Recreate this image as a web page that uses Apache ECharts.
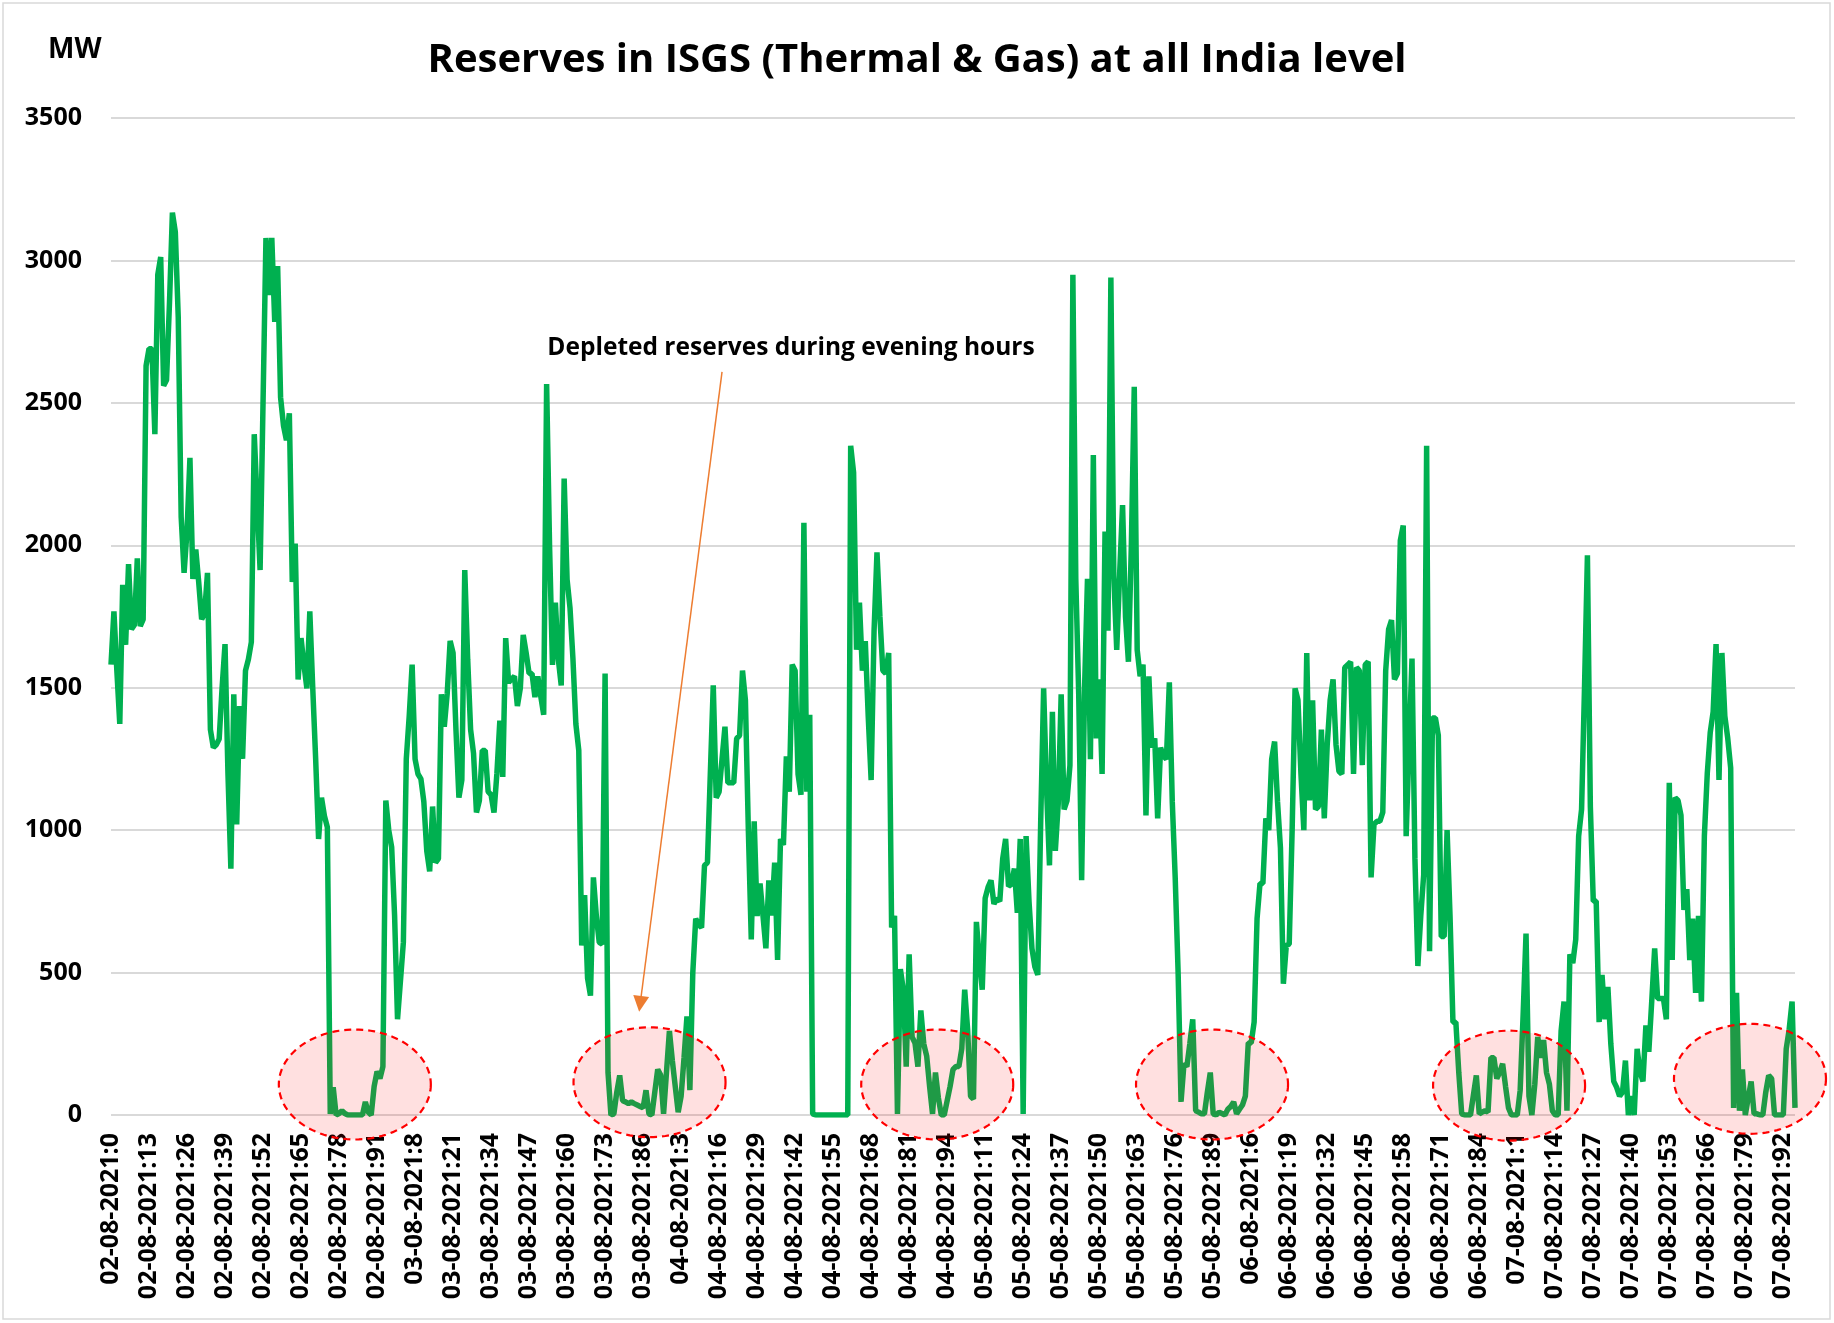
<!DOCTYPE html>
<html>
<head>
<meta charset="utf-8">
<title>Reserves in ISGS</title>
<script src="https://cdn.jsdelivr.net/npm/echarts@6/dist/echarts.min.js"></script>
<style>
  html, body { margin: 0; padding: 0; background: #fff; }
  #main { width: 1834px; height: 1323px; }
</style>
</head>
<body>
<div id="main"></div>
<script>
// days on the category axis, blocks per day
const days = ['02-08-2021', '03-08-2021', '04-08-2021', '05-08-2021', '06-08-2021', '07-08-2021']
const firstBlock = [0, 1, 1, 1, 1, 1]
const lastBlock = 96

// reserves in MW per block
const day02 = [
  1581, 1768, 1560, 1373, 1861, 1650, 1934, 1705, 1720, 1954,
  1716, 1740, 2630, 2690, 2690, 2390, 2950, 3012, 2560, 2580,
  2850, 3168, 3100, 2800, 2100, 1903, 2050, 2307, 1882, 1985,
  1870, 1740, 1760, 1903, 1353, 1290, 1300, 1320, 1500, 1653,
  1200, 865, 1477, 1020, 1436, 1250, 1560, 1600,
  1660, 2390, 2150, 1913, 2500, 3079, 2878, 3079, 2784, 2980,
  2520, 2420, 2369, 2463, 1871, 2006, 1529, 1674, 1580, 1498,
  1768, 1500, 1250, 969, 1114, 1050, 1010, 4, 97, 0,
  5, 15, 5, 0, 0, 0, 0, 0, 0, 46,
  10, 0, 100, 153, 128, 170, 1104, 1000, 940
]
const day03 = [
  700, 336, 470, 606, 1250, 1400, 1581, 1250, 1197, 1180,
  1100, 927, 855, 1083, 886, 900, 1477, 1363, 1480, 1664,
  1622, 1350, 1114, 1176, 1913, 1600, 1353, 1270, 1062, 1104,
  1280, 1280, 1135, 1124, 1062, 1200, 1384, 1187, 1674, 1519,
  1530, 1540, 1436, 1498, 1685, 1622, 1550, 1550, 1467,
  1540, 1470, 1405, 2566, 2000, 1580, 1799, 1600, 1508, 2234,
  1880, 1780, 1602, 1373, 1280, 595, 772, 481, 419, 834,
  700, 606, 600, 1550, 149, 0, 4, 80, 139, 50,
  46, 40, 46, 40, 35, 30, 25, 87, 4, 0,
  80, 160, 140, 4, 150, 295, 191
]
const day04 = [
  100, 10, 66, 200, 346, 87, 500, 689, 668, 658,
  876, 886, 1200, 1508, 1114, 1135, 1250, 1363, 1166, 1166,
  1166, 1322, 1332, 1560, 1456, 1000, 616, 1031, 699, 813,
  700, 585, 824, 700, 886, 544, 969, 948, 1259, 1135,
  1581, 1560, 1197, 1124, 2079, 1135, 1405, 4, 0, 0,
  0, 0, 0, 0, 0, 0, 0, 0, 0, 0,
  2349, 2255, 1633, 1799, 1560, 1664, 1400, 1176, 1700, 1975,
  1750, 1560, 1550, 1622, 658, 699, 4, 512, 440, 170,
  564, 274, 253, 170, 367, 250, 207, 100, 4, 149,
  60, 0, 0, 50, 100, 160
]
const day05 = [
  170, 170, 232, 440, 300, 66, 56, 678, 550, 440,
  761, 800, 824, 741, 760, 750, 900, 969, 803, 810,
  865, 710, 969, 4, 979, 750, 585, 520, 492, 1031,
  1498, 1145, 876, 1415, 927, 1093, 1477, 1073, 1104, 1228,
  2950, 1882, 1477, 824, 1498, 1882, 1249, 2317, 1322, 1529,
  1197, 2048, 1700, 2940, 1892, 1633, 1900, 2141, 1750, 1591,
  2000, 2556, 1633, 1540, 1581, 1052, 1540, 1290, 1322, 1041,
  1290, 1260, 1249, 1519, 1100, 834, 500, 46, 180, 170,
  250, 336, 15, 10, 4, 4, 80, 149, 4, 0,
  10, 5, 0, 20, 30, 46
]
const day06 = [
  4, 20, 35, 66, 253, 253, 326, 689, 813, 813,
  1041, 1000, 1249, 1311, 1100, 938, 461, 595, 600, 1000,
  1498, 1456, 1200, 1000, 1622, 1104, 1456, 1073, 1083, 1353,
  1041, 1300, 1456, 1529, 1300, 1207, 1197, 1571, 1580, 1591,
  1197, 1571, 1560, 1228, 1581, 1591, 834, 1020, 1031, 1031,
  1062, 1560, 1705, 1737, 1529, 1550, 2017, 2069, 979, 1300,
  1602, 900, 523, 700, 844, 2349, 575, 1394, 1394, 1332,
  627, 627, 1000, 700, 326, 326, 149, 4, 0, 0,
  0, 70, 139, 4, 10, 15, 10, 201, 201, 128,
  150, 180, 100, 25, 0, 0
]
const day07 = [
  0, 87, 350, 637, 66, 0, 108, 274, 201, 263,
  149, 108, 15, 0, 0, 295, 398, 15, 564, 533,
  616, 979, 1073, 1500, 1965, 1083, 751, 751, 326, 492,
  336, 450, 250, 118, 97, 66, 80, 191, 0, 66,
  0, 232, 150, 118, 315, 222, 400, 585, 409, 409,
  409, 336, 1166, 544, 1114, 1104, 1052, 720, 793, 544,
  689, 429, 699, 398, 979, 1200, 1342, 1415, 1653, 1176,
  1622, 1400, 1322, 1218, 25, 429, 15, 160, 0, 60,
  118, 4, 4, 0, 0, 80, 139, 128, 0, 0,
  0, 0, 232, 300, 398, 25
]

// circled low-reserve periods (centre block index, centre MW)
const ringIdx = [83.4, 184.2, 282.6, 376.6, 478.2, 560.6]
const ringMW = [107, 115, 107, 107, 103, 127]
const ringHalfBlocks = 26
const ringHalfMW = 193

// annotation arrow, from text down to the second circle
const arrowFrom = [209, 2609]
const arrowTo = [181, 390]

const categories = []
days.forEach((d, i) => {
  for (let b = firstBlock[i]; b <= lastBlock; b++) {
    categories.push(d + ':' + b)
  }
})
const reserves = [].concat(day02, day03, day04, day05, day06, day07)

const FONT = '"Open Sans", "Liberation Sans", sans-serif'
const chart = echarts.init(document.getElementById('main'), null, { renderer: 'canvas' })

chart.setOption({
  animation: false,
  backgroundColor: '#ffffff',
  title: {
    text: 'Reserves in ISGS (Thermal & Gas) at all India level',
    left: 'center',
    top: 36,
    textStyle: {
      fontFamily: FONT,
      fontWeight: 'bold',
      fontSize: 40,
      color: '#000'
    }
  },
  grid: {
    left: 111,
    right: 39,
    top: 118,
    bottom: 208,
    containLabel: false,
    outerBoundsMode: 'none'
  },
  xAxis: {
    type: 'category',
    data: categories,
    boundaryGap: false,
    axisLine: { show: false },
    axisTick: { show: false },
    axisLabel: {
      interval: 12,
      rotate: 90,
      margin: 18,
      fontFamily: FONT,
      fontWeight: 'bold',
      fontSize: 25,
      color: '#000'
    },
    splitLine: { show: false }
  },
  yAxis: {
    type: 'value',
    min: 0,
    max: 3500,
    interval: 500,
    axisLine: { show: false },
    axisTick: { show: false },
    axisLabel: {
      margin: 29,
      fontFamily: FONT,
      fontWeight: 'bold',
      fontSize: 25,
      color: '#000',
      formatter: (v) => String(v)
    },
    splitLine: { lineStyle: { color: '#d9d9d9', width: 2 } }
  },
  series: [
    {
      name: 'Reserves',
      type: 'line',
      data: reserves,
      showSymbol: false,
      symbol: 'none',
      lineStyle: { color: '#00b050', width: 5.5 },
      z: 3,
      markLine: {
        silent: true,
        symbol: ['none', 'triangle'],
        symbolSize: 16,
        label: { show: false },
        lineStyle: { color: '#ed7d31', width: 1.5, type: 'solid' },
        data: [[{ coord: arrowFrom }, { coord: arrowTo }]]
      }
    }
  ]
})

// dashed red ellipses and the loose texts
function drawExtras() {
  const p0 = chart.convertToPixel({ seriesIndex: 0 }, [0, 0])
  const p1 = chart.convertToPixel({ seriesIndex: 0 }, [1, ringHalfMW])
  const step = p1[0] - p0[0]
  const rx = step * ringHalfBlocks
  const ry = p0[1] - p1[1]
  const rings = ringIdx.map((idx, i) => {
    const cx = p0[0] + idx * step
    const cy = chart.convertToPixel({ seriesIndex: 0 }, [0, ringMW[i]])[1]
    const pts = []
    for (let a = 0; a < 120; a++) {
      const t = (a / 120) * Math.PI * 2
      pts.push([cx + rx * Math.cos(t), cy + ry * Math.sin(t)])
    }
    return {
      type: 'polygon',
      z: 100,
      silent: true,
      shape: { points: pts },
      style: {
        fill: 'rgba(255,0,0,0.12)',
        stroke: '#ff0000',
        lineWidth: 2.2,
        lineDash: [7, 5]
      }
    }
  })
  chart.setOption({
    graphic: [
      {
        type: 'rect',
        silent: true,
        shape: { x: 3, y: 3, width: 1827, height: 1316 },
        style: { fill: 'none', stroke: '#d9d9d9', lineWidth: 1.5 }
      },
      {
        type: 'text',
        left: 48,
        top: 36,
        style: {
          text: 'MW',
          font: 'bold 28px ' + FONT,
          fill: '#000'
        }
      },
      {
        type: 'text',
        x: 791,
        y: 348,
        z: 101,
        style: {
          text: 'Depleted reserves during evening hours',
          font: 'bold 24.5px ' + FONT,
          fill: '#000',
          align: 'center',
          verticalAlign: 'middle'
        }
      }
    ].concat(rings)
  })
}
drawExtras()
</script>
</body>
</html>
